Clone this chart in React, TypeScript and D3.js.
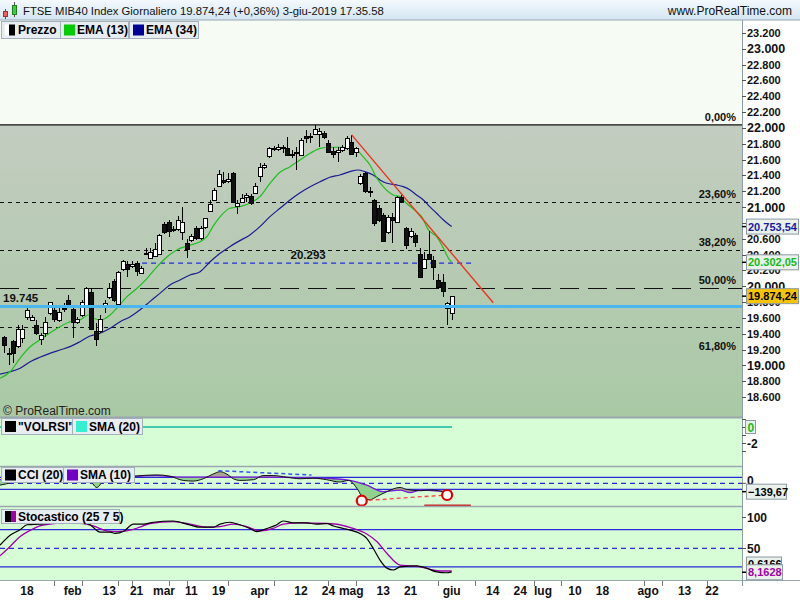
import React from 'react';
import * as d3 from 'd3';

// ---------------- DATA ----------------
const START = '2019-01-11';
const HOLIDAYS = ['2019-04-19', '2019-04-22', '2019-05-01', '2019-08-15'];

// daily candles [open, high, low, close] from 2019-01-11 to 2019-06-03
const candles: [number, number, number, number][] = [
  [19362, 19371, 19152, 19266], [19160, 19215, 19004, 19150], [19308, 19320, 19030, 19152],
  [19236, 19510, 19220, 19456], [19342, 19510, 19279, 19456], [19615, 19741, 19573, 19700],
  [19582, 19636, 19561, 19615], [19510, 19573, 19384, 19413], [19329, 19413, 19253, 19380],
  [19405, 19615, 19362, 19544], [19658, 19805, 19636, 19797], [19700, 19763, 19552, 19590],
  [19582, 19763, 19552, 19678], [19730, 19788, 19674, 19720], [19826, 19893, 19725, 19741],
  [19712, 19741, 19342, 19552], [19548, 19611, 19522, 19582], [19636, 19826, 19611, 19805],
  [19741, 19986, 19725, 19974], [19923, 19974, 19447, 19456], [19438, 19531, 19245, 19333],
  [19426, 19636, 19405, 19582], [19734, 19826, 19658, 19784], [19860, 20045, 19839, 19974],
  [20062, 20096, 19805, 19826], [19784, 20197, 19775, 20184], [20219, 20332, 20197, 20315],
  [20281, 20324, 20117, 20218], [20256, 20319, 20231, 20281], [20290, 20315, 20129, 20184],
  [20172, 20252, 20163, 20235], [20425, 20480, 20391, 20420], [20357, 20480, 20341, 20437],
  [20391, 20543, 20378, 20476], [20399, 20666, 20391, 20644], [20783, 20816, 20660, 20677],
  [20808, 20837, 20626, 20698], [20720, 20757, 20685, 20705], [20719, 20888, 20698, 20837],
  [20692, 20998, 20584, 20816], [20543, 20593, 20357, 20467], [20580, 20665, 20564, 20636],
  [20730, 20757, 20584, 20604], [20604, 20757, 20584, 20730], [20745, 20867, 20723, 20859],
  [20952, 21090, 20944, 21036], [21090, 21238, 21077, 21216], [21267, 21469, 21254, 21419],
  [21343, 21448, 21292, 21314], [21321, 21432, 21305, 21351], [21435, 21448, 21052, 21069],
  [21016, 21090, 20918, 21054], [21070, 21166, 21052, 21117], [21120, 21180, 21060, 21150],
  [21141, 21166, 21027, 21048], [21182, 21305, 21166, 21267], [21385, 21554, 21321, 21503],
  [21503, 21554, 21482, 21532], [21637, 21764, 21621, 21743], [21743, 21772, 21709, 21730],
  [21730, 21798, 21709, 21756], [21750, 21785, 21680, 21760], [21743, 21882, 21646, 21659],
  [21672, 21722, 21621, 21660], [21690, 21764, 21469, 21680], [21659, 21874, 21646, 21848],
  [21899, 21975, 21807, 21870], [21890, 21933, 21807, 21900], [21924, 22038, 21912, 21983],
  [21933, 22000, 21764, 21966], [21933, 21962, 21861, 21882], [21814, 21848, 21684, 21700],
  [21713, 21764, 21617, 21680], [21700, 21764, 21574, 21722], [21722, 21785, 21697, 21756],
  [21743, 21899, 21722, 21870], [21827, 21912, 21659, 21680], [21688, 21760, 21637, 21743],
  [21301, 21419, 21280, 21393], [21427, 21448, 21178, 21195], [21200, 21258, 21131, 21190],
  [21090, 21103, 20761, 20795], [20985, 21027, 20812, 20837], [20900, 20926, 20559, 20575],
  [20677, 20900, 20660, 20871], [20880, 20922, 20543, 20837], [20816, 21141, 20799, 21132],
  [21124, 21153, 21052, 21069], [20730, 20747, 20467, 20519], [20636, 20730, 20615, 20695],
  [20653, 20678, 20497, 20568], [20407, 20479, 20100, 20113], [20225, 20433, 20214, 20339],
  [20407, 20695, 20332, 20340], [20332, 20382, 20079, 20240], [20079, 20155, 19965, 19986],
  [20050, 20150, 19860, 19931], [19721, 19800, 19510, 19784], [19665, 19864, 19573, 19874.24],
];

// [trading-day index, value]
const ema13: [number, number][] = [
  [-0.9, 18836], [1.3, 18919], [3.5, 19092], [5.7, 19235], [7.8, 19320], [10, 19408], [12.2, 19488],
  [14.4, 19551], [16.6, 19573], [18.4, 19636], [19.5, 19599], [21, 19573], [23.2, 19636], [24.7, 19725],
  [26.9, 19868], [29.1, 19974], [31.3, 20100], [33.5, 20247], [35.7, 20373], [37.8, 20458], [40, 20508],
  [42.9, 20563], [44.4, 20626], [45.7, 20753], [47.3, 20879], [49.4, 20985], [51.6, 21005], [53.8, 21048],
  [56, 21132], [58.2, 21300], [60.4, 21440], [62.6, 21511], [64.8, 21596], [67, 21680], [69.2, 21743],
  [71.3, 21756], [73.5, 21756], [75.7, 21743], [77.2, 21722], [78.6, 21637], [80.1, 21532], [81.6, 21368],
  [83, 21258], [85.2, 21153], [86.7, 21132], [88.1, 21048], [90.3, 20942], [91.4, 20879], [92.9, 20711],
  [94.7, 20626], [96.2, 20479], [97.3, 20352], [98, 20302.05],
];
const ema34: [number, number][] = [
  [-0.9, 18890], [1.3, 18919], [3.5, 18963], [5.7, 19046], [7.8, 19102], [10, 19152], [12.2, 19194],
  [14.4, 19236], [16.6, 19299], [18.8, 19371], [21, 19405], [23.2, 19468], [25.4, 19552], [27.6, 19615],
  [29.7, 19700], [31.9, 19805], [34.1, 19910], [36.3, 20016], [38.5, 20079], [40.7, 20142], [42.9, 20184],
  [45.1, 20310], [47.3, 20416], [49.4, 20500], [51.6, 20576], [53.8, 20648], [56, 20753], [58.2, 20879],
  [60.4, 20985], [62.6, 21090], [64.8, 21182], [67, 21258], [69.2, 21321], [71.3, 21377], [73.5, 21406],
  [75.7, 21448], [77.5, 21469], [79, 21448], [80.8, 21406], [82.3, 21343], [83.8, 21301], [85.9, 21280],
  [87.4, 21258], [88.9, 21216], [90.3, 21153], [91.8, 21090], [93.2, 21005], [94.7, 20922], [96.2, 20837],
  [97.6, 20770], [98, 20753.54],
];
const volrsi: [number, number][] = [[-0.9, 0], [98, 0]];
const volrsiSma: [number, number][] = [[-0.9, 0], [98, 0]];
const cci: [number, number][] = [
  [-0.9, -30], [2, 20], [5, 100], [10, 120], [15, 70], [18.5, 60], [20.3, -70], [22, 60], [25, 80],
  [28.6, 118], [33.4, 140], [36.3, 118], [39.2, 48], [41.4, 37], [43.6, 76], [45.8, 156], [47.3, 194],
  [48.7, 156], [50.2, 76], [51.6, 48], [54.6, 60], [56.7, 129], [58.9, 129], [61.9, 102], [64.8, 76],
  [67.7, 85], [70.6, 60], [73.5, 21], [75.4, 48], [77.5, -113], [78.6, -247], [80.1, -274], [81.6, -221],
  [83.8, -140], [86.7, -69], [88.1, -102], [91.1, -124], [93.3, -113], [95.1, -124], [96.2, -140], [98, -139.67],
];
const cciSma: [number, number][] = [
  [-0.9, 60], [10, 100], [20, 90], [28.6, 118], [33.4, 129], [38.5, 102], [45.8, 102], [50.2, 102],
  [57.5, 102], [64.8, 92], [72.1, 76], [75.7, 48], [79.4, -32], [83, -140], [86.7, -113], [88.9, -156],
  [91.1, -113], [96.2, -129], [98, -129],
];
const stochK: [number, number][] = [
  [-0.9, 55], [1.3, 71], [3.5, 80], [5, 88], [7.8, 89], [10, 90], [13.7, 90], [17.3, 91], [18.8, 88],
  [21, 76], [23.2, 76], [24.3, 74], [26.1, 77], [28.3, 89], [30.5, 89], [32.7, 92], [37, 94], [40, 89],
  [42.9, 84], [45.8, 84], [47.3, 89], [49.4, 92], [51.6, 88], [53.8, 82], [55.3, 77], [57.5, 82],
  [59.7, 88], [61.1, 94], [63.3, 91], [66.2, 91], [68.4, 89], [70.6, 90], [72.1, 86], [74.3, 82],
  [76.4, 78], [77.9, 74], [79.4, 66], [80.8, 50], [82.3, 31], [83.8, 18], [85.2, 15], [86.7, 20],
  [90.3, 21.5], [92.5, 18], [94.7, 12], [96.9, 10.6], [98, 12],
];
const stochD: [number, number][] = [
  [-0.9, 38], [1.3, 53], [3.5, 69], [5.7, 79], [7.8, 86], [10, 89], [13.7, 91], [17.3, 90], [19.5, 86],
  [22.5, 78], [24.6, 77], [26.8, 78], [29.7, 84], [31.9, 90], [37, 93], [40.7, 89], [44.3, 84], [47.3, 85],
  [50.2, 89], [53.1, 85], [56, 78], [58.9, 82], [61.1, 89], [64.8, 91], [70.6, 90], [73.5, 88], [76.4, 82],
  [79.4, 73], [81.6, 61], [83.8, 42], [86.7, 23], [88.9, 21.5], [91.1, 20], [93.3, 16], [95.5, 13.4], [98, 13.4],
];

const fibPrices = [22038, 21065, 20463, 19976, 19489];
const fibLabels = ['0,00%', '23,60%', '38,20%', '50,00%', '61,80%'];
const supportLevel = 19745;
const resistLevel = 20293;
const resistSpan = [30.2, 102.7];
const trendLine: [number, number][] = [[76.1, 21912], [107.1, 19792]];
const cciTrendHigh: [number, number][] = [[46.9, 210], [67.3, 138]];
const cciTrendLow: [number, number][] = [[78.3, -290], [97, -195]];
const cciMarkLine: [number, number][] = [[92, -367], [102.2, -367]];

const lastClose = 19874.24;
const lastEma13 = 20302.05;
const lastEma34 = 20753.54;
const lastCci = -139.67;
const lastStochK = 0.6166;
const lastStochD = 8.1628;
const lastVolrsi = 0;

const axisDates = ['2019-01-18', '2019-02-01', '2019-02-13', '2019-02-21', '2019-03-01', '2019-03-11',
  '2019-03-19', '2019-04-01', '2019-04-12', '2019-04-24', '2019-05-02', '2019-05-13', '2019-05-21',
  '2019-06-03', '2019-06-14', '2019-06-24', '2019-07-01', '2019-07-10', '2019-07-18', '2019-08-01',
  '2019-08-13', '2019-08-22'];
const axisLabels = ['18', 'feb', '13', '21', 'mar', '11', '19', 'apr', '12', '24', 'mag', '13', '21',
  'giu', '14', '24', 'lug', '10', '18', 'ago', '13', '22'];
const minorTickDates = ['2019-01-28', '2019-02-05', '2019-02-15', '2019-02-20', '2019-03-04', '2019-03-08',
  '2019-03-21', '2019-04-04', '2019-04-24', '2019-05-03', '2019-05-29', '2019-06-10', '2019-06-27',
  '2019-07-05', '2019-07-31', '2019-08-06', '2019-08-21'];

const priceTickValues = d3.range(18600, 23201, 200);
const stochTickValues = [100, 50];

const title = 'FTSE MIB40 Index Giornaliero 19.874,24 (+0,36%) 3-giu-2019 17.35.58';

// ---------------- HELPERS ----------------
function buildTradingDays(start: string, count: number): string[] {
  const out: string[] = [];
  const d = new Date(start + 'T00:00:00Z');
  while (out.length < count) {
    const dow = d.getUTCDay();
    const iso = d.toISOString().slice(0, 10);
    if (dow !== 0 && dow !== 6 && !HOLIDAYS.includes(iso)) out.push(iso);
    d.setUTCDate(d.getUTCDate() + 1);
  }
  return out;
}
const days = buildTradingDays(START, 200);
const dayIdx = (iso: string) => days.indexOf(iso);

const itLocale = d3.formatLocale({ decimal: ',', thousands: '.', grouping: [3], currency: ['', ''] });
const fmtInt = itLocale.format(',.0f');
const fmt2 = itLocale.format(',.2f');
const fmt4 = itLocale.format(',.4f');

const FONT = '"Liberation Sans", Arial, Helvetica, sans-serif';
const PR = 742; // plot right

// scales
const x = d3.scaleLinear().domain([dayIdx('2019-01-18'), dayIdx('2019-08-22')]).range([27, 712]);
const yP = d3.scaleLinear().domain([18600, 23200]).range([397, 33]);
const yV = d3.scaleLinear().domain([0, -2]).range([427, 443]);
const yC = d3.scaleLinear().domain([100, -100]).range([477.3, 489.3]);
const yS = d3.scaleLinear().domain([0, 100]).range([579.3, 517.3]);

const mkLine = (ys: d3.ScaleLinear<number, number>) =>
  d3.line<[number, number]>().x(d => x(d[0])).y(d => ys(d[1])).curve(d3.curveMonotoneX);

function LegendBox({ x0, y0, w, h, swatch, text }: { x0: number; y0: number; w: number; h: number; swatch: React.ReactNode; text: string }) {
  return (
    <g>
      <rect x={x0 + 0.5} y={y0 + 0.5} width={w} height={h} fill="#e8edf2" stroke="#a4b0bc" />
      <g transform={`translate(${x0 + 4},${y0 + h / 2 - 5})`}>{swatch}</g>
      <text x={x0 + 17} y={y0 + h / 2 + 4.5} fontFamily={FONT} fontWeight="bold" fontSize={12} fill="#000">{text}</text>
    </g>
  );
}

function ValueBox({ y, text, color, fill, w = 52, fs = 11 }: { y: number; text: string; color: string; fill: string; w?: number; fs?: number }) {
  return (
    <g>
      <line x1={PR} x2={747} y1={y} y2={y} stroke="#000" strokeWidth={1.5} />
      <rect x={746.5} y={y - 7.5} width={w} height={15} fill={fill} stroke="#8c9aa4" />
      <text x={748} y={y + 4} fontFamily={FONT} fontWeight="bold" fontSize={fs} fill={color}>{text}</text>
    </g>
  );
}

export default function App() {
  const ema13Path = mkLine(yP)(ema13) || '';
  const ema34Path = mkLine(yP)(ema34) || '';
  const cciLine = mkLine(yC);
  const cciPath = cciLine(cci) || '';
  const cciSmaPath = cciLine(cciSma) || '';
  const stochKPath = mkLine(yS)(stochK) || '';
  const stochDPath = mkLine(yS)(stochD) || '';
  const volPath = mkLine(yV)(volrsi) || '';
  const volSmaPath = mkLine(yV)(volrsiSma) || '';

  const CTOP = 467, CBOT = 507;
  const closeDown = (p: string, series: [number, number][], yEdge: number) =>
    `${p}L${x(series[series.length - 1][0])},${yEdge}L${x(series[0][0])},${yEdge}Z`;

  const fibY = fibPrices.map(p => yP(p));
  // price labels hidden entirely behind the value boxes are not drawn
  const covered = [lastEma34].map(v => yP(v));

  return (
    <svg width={800} height={600} style={{ position: 'absolute', left: 0, top: 0, display: 'block' }} xmlns="http://www.w3.org/2000/svg">
      <defs>
        <linearGradient id="hdr" x1="0" y1="0" x2="0" y2="1">
          <stop offset="0" stopColor="#f4f9fd" />
          <stop offset="1" stopColor="#d3e5f1" />
        </linearGradient>
        <linearGradient id="fibBg" x1="0" y1="0" x2="0" y2="1">
          <stop offset="0" stopColor="#c3ccc0" />
          <stop offset="1" stopColor="#a9c9a5" />
        </linearGradient>
        <clipPath id="mainClip"><rect x={0} y={20} width={PR} height={397} /></clipPath>
        <clipPath id="cciClip"><rect x={0} y={CTOP} width={PR} height={CBOT - CTOP} /></clipPath>
        <clipPath id="stClip"><rect x={0} y={507} width={PR} height={73} /></clipPath>
        <clipPath id="aboveSma"><path d={closeDown(cciSmaPath, cciSma, CTOP)} /></clipPath>
        <clipPath id="aboveCci"><path d={closeDown(cciPath, cci, CTOP)} /></clipPath>
      </defs>

      <rect x={0} y={0} width={800} height={600} fill="#ffffff" />

      {/* ---------- main panel ---------- */}
      <rect x={0} y={20} width={PR} height={397} fill="#f6fbf4" />
      <rect x={0} y={fibY[0]} width={PR} height={417 - fibY[0]} fill="url(#fibBg)" />

      <g clipPath="url(#mainClip)">
        <line x1={0} x2={PR} y1={fibY[0]} y2={fibY[0]} stroke="#111" strokeWidth={1.2} />
        {fibY.slice(1).map((fy, i) => (
          <line key={i} x1={0} x2={PR} y1={Math.round(fy) + 0.5} y2={Math.round(fy) + 0.5} stroke="#111" strokeWidth={1}
            strokeDasharray={i === 2 ? '19 9' : '4 4'} />
        ))}
        <line x1={x(resistSpan[0])} x2={x(resistSpan[1])} y1={yP(resistLevel)} y2={yP(resistLevel)} stroke="#1f2fe0" strokeWidth={1.3} strokeDasharray="5 4" />
        <path d={ema34Path} fill="none" stroke="#1c1c90" strokeWidth={1.2} />
        <path d={ema13Path} fill="none" stroke="#1fbf1f" strokeWidth={1.2} />
        <g shapeRendering="crispEdges">
          {candles.map((c, i) => {
            const [o, h, l, cl] = c;
            const cx = Math.round(x(i));
            const top = yP(Math.max(o, cl));
            const bot = yP(Math.min(o, cl));
            const up = cl >= o;
            return (
              <g key={i}>
                <line x1={cx + 0.5} x2={cx + 0.5} y1={yP(h)} y2={yP(l)} stroke="#000" strokeWidth={1} />
                <rect x={cx - 1.5} y={Math.round(top) + 0.5} width={4} height={Math.max(1, Math.round(bot - top))}
                  fill={up ? '#ffffff' : '#111111'} stroke="#000" strokeWidth={1} />
              </g>
            );
          })}
        </g>
        <line x1={0} x2={PR} y1={yP(supportLevel)} y2={yP(supportLevel)} stroke="#49b6ef" strokeWidth={3} />
        <line x1={x(trendLine[0][0])} y1={yP(trendLine[0][1])} x2={x(trendLine[1][0])} y2={yP(trendLine[1][1])} stroke="#ee3322" strokeWidth={1.4} />
      </g>

      {fibLabels.map((lab, i) => (
        <text key={lab} x={736} y={i === 4 ? fibY[i] + 23.5 : fibY[i] - 4} textAnchor="end" fontFamily={FONT} fontWeight="bold" fontSize={11} fill="#111">{lab}</text>
      ))}
      <text x={3} y={yP(supportLevel) - 4} fontFamily={FONT} fontWeight="bold" fontSize={11.5} fill="#111">{fmtInt(supportLevel)}</text>
      <text x={290.5} y={yP(resistLevel) - 4.5} fontFamily={FONT} fontWeight="bold" fontSize={11.5} fill="#111">{fmtInt(resistLevel)}</text>
      <text x={3} y={415} fontFamily={FONT} fontSize={12} fill="#222">© ProRealTime.com</text>

      {/* ---------- VOLRSI panel ---------- */}
      <rect x={0} y={418} width={PR} height={48} fill="#d7fdd7" />
      <path d={volPath} fill="none" stroke="#000" strokeWidth={1} />
      <path d={volSmaPath} fill="none" stroke="#33e3c3" strokeWidth={1.3} />

      {/* ---------- CCI panel ---------- */}
      <rect x={0} y={CTOP} width={PR} height={CBOT - CTOP} fill="#d7fdd7" />
      <g clipPath="url(#cciClip)">
        <line x1={0} x2={PR} y1={yC(100)} y2={yC(100)} stroke="#2a2ad8" strokeWidth={1.2} />
        <line x1={0} x2={PR} y1={yC(0)} y2={yC(0)} stroke="#2a2ad8" strokeWidth={1.2} strokeDasharray="5 4" />
        <line x1={0} x2={PR} y1={yC(-100)} y2={yC(-100)} stroke="#2a2ad8" strokeWidth={1.2} />
        <g clipPath="url(#aboveSma)">
          <path d={`${cciPath}L${x(cci[cci.length - 1][0])},${CBOT}L${x(cci[0][0])},${CBOT}Z`} fill="#aba491" />
        </g>
        <g clipPath="url(#aboveCci)">
          <path d={`${cciSmaPath}L${x(cciSma[cciSma.length - 1][0])},${CBOT}L${x(cciSma[0][0])},${CBOT}Z`} fill="#8fd38f" />
        </g>
        <path d={cciSmaPath} fill="none" stroke="#7a1ad8" strokeWidth={1.3} />
        <path d={cciPath} fill="none" stroke="#111" strokeWidth={1} />
        <line x1={x(cciTrendHigh[0][0])} y1={yC(cciTrendHigh[0][1])} x2={x(cciTrendHigh[1][0])} y2={yC(cciTrendHigh[1][1])} stroke="#3355ee" strokeWidth={1.5} strokeDasharray="4 3" />
        <line x1={x(cciTrendLow[0][0])} y1={yC(cciTrendLow[0][1])} x2={x(cciTrendLow[1][0])} y2={yC(cciTrendLow[1][1])} stroke="#ff4444" strokeWidth={1.3} strokeDasharray="4 3" />
        <line x1={x(cciMarkLine[0][0])} y1={yC(cciMarkLine[0][1])} x2={x(cciMarkLine[1][0])} y2={yC(cciMarkLine[1][1])} stroke="#cc1f1f" strokeWidth={1.5} />
      </g>
      {cciTrendLow.map((p, i) => (
        <circle key={i} cx={x(p[0])} cy={yC(p[1])} r={5} fill="#ffffff" stroke="#e00000" strokeWidth={2.2} />
      ))}

      {/* ---------- Stochastic panel ---------- */}
      <rect x={0} y={507} width={PR} height={73} fill="#d7fdd7" />
      <g clipPath="url(#stClip)">
        <line x1={0} x2={PR} y1={yS(80)} y2={yS(80)} stroke="#2a2ad8" strokeWidth={1.2} />
        <line x1={0} x2={PR} y1={yS(50)} y2={yS(50)} stroke="#2a2ad8" strokeWidth={1.2} strokeDasharray="5 4" />
        <line x1={0} x2={PR} y1={yS(20)} y2={yS(20)} stroke="#2a2ad8" strokeWidth={1.2} />
        <path d={stochDPath} fill="none" stroke="#a000a8" strokeWidth={1.3} />
        <path d={stochKPath} fill="none" stroke="#000" strokeWidth={1.2} />
      </g>

      <line x1={0} x2={PR} y1={417.5} y2={417.5} stroke="#9ba6ad" strokeWidth={2} />
      <line x1={0} x2={PR} y1={466.5} y2={466.5} stroke="#9ba6ad" strokeWidth={1.5} />
      <line x1={0} x2={PR} y1={506.5} y2={506.5} stroke="#9ba6ad" strokeWidth={1.5} />
      <line x1={0} x2={800} y1={580.5} y2={580.5} stroke="#9ba6ad" strokeWidth={1} />

      {/* ---------- right axis ---------- */}
      <rect x={PR} y={20} width={800 - PR} height={560} fill="#ffffff" />
      <line x1={PR + 0.5} x2={PR + 0.5} y1={20} y2={580} stroke="#8e9ca6" strokeWidth={1} />
      {priceTickValues.map(v => {
        const big = v % 1000 === 0;
        const hidden = covered.some(cy => Math.abs(cy - yP(v)) < 6);
        return (
          <g key={v}>
            <line x1={PR} x2={746} y1={Math.round(yP(v)) + 0.5} y2={Math.round(yP(v)) + 0.5} stroke="#555" />
            {!hidden && (
              <text x={747} y={yP(v) + (big ? 4.5 : 4)} fontFamily={FONT} fontWeight="bold" fontSize={big ? 12.5 : 11} fill="#111">{fmtInt(v)}</text>
            )}
          </g>
        );
      })}
      <ValueBox y={yP(lastEma34)} text={fmt2(lastEma34)} color="#1a1aa0" fill="#e9f1ea" />
      <ValueBox y={yP(lastEma13)} text={fmt2(lastEma13)} color="#18b818" fill="#e9f1ea" />
      <ValueBox y={yP(lastClose)} text={fmt2(lastClose)} color="#000" fill="#f6c400" />

      {[1, 0, -1, -2, -3].map(v => (
        <line key={v} x1={PR} x2={746} y1={Math.round(yV(v)) + 0.5} y2={Math.round(yV(v)) + 0.5} stroke="#555" />
      ))}
      <text x={747} y={yV(-2) + 4.5} fontFamily={FONT} fontWeight="bold" fontSize={12} fill="#111">-2</text>
      <g>
        <rect x={745.5} y={yV(lastVolrsi) - 6.5} width={10} height={13} fill="#e9f1ea" stroke="#8c9aa4" />
        <text x={747.5} y={yV(lastVolrsi) + 4.5} fontFamily={FONT} fontWeight="bold" fontSize={12} fill="#22bb22">{lastVolrsi}</text>
      </g>

      <line x1={PR} x2={746} y1={yC(0)} y2={yC(0)} stroke="#555" />
      <text x={747} y={yC(0) + 2} fontFamily={FONT} fontWeight="bold" fontSize={12} fill="#111">0</text>
      <ValueBox y={yC(lastCci)} text={fmt2(lastCci)} color="#000" fill="#e9f1ea" w={40} />

      {stochTickValues.map(v => (
        <g key={v}>
          <line x1={PR} x2={746} y1={Math.round(yS(v)) + 0.5} y2={Math.round(yS(v)) + 0.5} stroke="#555" />
          <text x={747} y={yS(v) + 4.5} fontFamily={FONT} fontWeight="bold" fontSize={12} fill="#111">{v}</text>
        </g>
      ))}
      <g>
        <rect x={746.5} y={557} width={35} height={14} fill="#e9f1ea" stroke="#8c9aa4" />
        <text x={748} y={568} fontFamily={FONT} fontWeight="bold" fontSize={11} fill="#000">{fmt4(lastStochK)}</text>
      </g>
      <ValueBox y={yS(lastStochD) - 2} text={fmt4(lastStochD)} color="#a000a8" fill="#e9f1ea" w={36} />

      {/* ---------- time axis ---------- */}
      <rect x={0} y={581} width={800} height={19} fill="#ffffff" />
      {minorTickDates.map(d => (
        <line key={d} x1={Math.round(x(dayIdx(d))) + 0.5} x2={Math.round(x(dayIdx(d))) + 0.5} y1={581} y2={586} stroke="#777" />
      ))}
      {axisDates.map((d, i) => (
        <text key={d} x={x(dayIdx(d))} y={595} textAnchor="middle" fontFamily={FONT} fontWeight="bold" fontSize={12} fill="#111">{axisLabels[i]}</text>
      ))}
      <line x1={PR + 0.5} x2={PR + 0.5} y1={580} y2={586} stroke="#8e9ca6" />

      {/* ---------- header ---------- */}
      <rect x={0} y={0} width={800} height={20} fill="url(#hdr)" />
      <line x1={0} x2={800} y1={20} y2={20} stroke="#98a8b4" strokeWidth={1} />
      <g>
        <line x1={5.5} x2={5.5} y1={9} y2={19} stroke="#555" />
        <rect x={3.5} y={11.5} width={4} height={5} fill="#f06060" stroke="#a03030" />
        <line x1={14.5} x2={14.5} y1={2} y2={17} stroke="#555" />
        <rect x={12.5} y={5.5} width={4} height={9} fill="#40cc40" stroke="#208020" />
      </g>
      <text x={23} y={15} fontFamily={FONT} fontSize={11.3} fill="#111">{title}</text>
      <text x={792} y={15} textAnchor="end" fontFamily={FONT} fontSize={12} fill="#111">www.ProRealTime.com</text>

      {/* ---------- legends ---------- */}
      <LegendBox x0={1} y0={21} w={59} h={17} text="Prezzo"
        swatch={<g><rect x={0} y={0} width={4} height={11} fill="#fff" /><rect x={4} y={0} width={6} height={11} fill="#000" /></g>} />
      <LegendBox x0={60} y0={21} w={68} h={17} text="EMA (13)" swatch={<rect x={0} y={0} width={11} height={11} fill="#00cc00" />} />
      <LegendBox x0={129} y0={21} w={69} h={17} text="EMA (34)" swatch={<rect x={0} y={0} width={11} height={11} fill="#000099" />} />

      <LegendBox x0={1} y0={418} w={71} h={16} text={'"VOLRSI"'} swatch={<rect x={0} y={0} width={11} height={11} fill="#000" />} />
      <LegendBox x0={72} y0={418} w={70} h={16} text="SMA (20)" swatch={<rect x={0} y={0} width={11} height={11} fill="#33f0d0" />} />

      <LegendBox x0={1} y0={467} w={62} h={15} text="CCI (20)" swatch={<rect x={0} y={0} width={11} height={11} fill="#000" />} />
      <LegendBox x0={63} y0={467} w={71} h={15} text="SMA (10)" swatch={<rect x={0} y={0} width={11} height={11} fill="#7000c8" />} />

      <LegendBox x0={1} y0={509} w={118} h={14} text="Stocastico (25 7 5)"
        swatch={<g><rect x={0} y={0} width={6} height={11} fill="#000" /><rect x={6} y={0} width={5} height={11} fill="#a000a8" /></g>} />
    </svg>
  );
}
